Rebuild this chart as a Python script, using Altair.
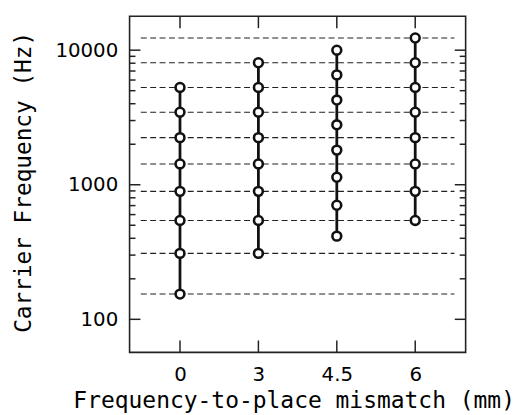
import altair as alt
import pandas as pd

# Data
x_labels = ["0", "3", "4.5", "6"]
freq_0 = [154, 309, 543, 893, 1427, 2239, 3459, 5283]
freq_3 = [309, 543, 893, 1427, 2239, 3459, 5283, 8064]
freq_45 = [415, 704, 1137, 1809, 2790, 4260, 6550, 10000]
freq_6 = [543, 893, 1427, 2239, 3459, 5283, 8064, 12315]
ref_lines = [154, 309, 543, 893, 1427, 2239, 3459, 5283, 8064, 12315]
major_ticks = [100, 1000, 10000]
minor_ticks = [200, 300, 400, 500, 600, 700, 800, 900,
               2000, 3000, 4000, 5000, 6000, 7000, 8000, 9000]
y_domain = [56.8, 17850]
x_domain = [-0.643, 3.643]
ref_extent = [-0.5, 3.5]

columns = [freq_0, freq_3, freq_45, freq_6]
rows = []
for i, fl in enumerate(columns):
    for f in fl:
        rows.append({"idx": i, "freq": f})
df = pd.DataFrame(rows)
df_ref = pd.DataFrame({"freq": ref_lines})
df_major = pd.DataFrame({"freq": major_ticks})
df_minor = pd.DataFrame({"freq": minor_ticks})
df_xt = pd.DataFrame({"idx": list(range(len(x_labels)))})

W, H = 340, 340
TICK_FONT = "DejaVu Sans"
TITLE_FONT = "DejaVu Sans Mono"
label_expr = "[" + ",".join("'%s'" % l for l in x_labels) + "][datum.value]"

xscale = alt.Scale(domain=x_domain, nice=False, zero=False)
yscale = alt.Scale(type="log", domain=y_domain, nice=False)

xaxis = alt.Axis(values=list(range(len(x_labels))), labelExpr=label_expr,
                 ticks=False, grid=False, domain=False, labelPadding=12.5,
                 labelFont=TICK_FONT, labelFontSize=20, labelColor="black",
                 title="Frequency-to-place mismatch (mm)", titleFont=TITLE_FONT,
                 titleFontSize=23.2, titleFontWeight="normal", titleColor="black",
                 titlePadding=4.8, titleX=166)
yaxis = alt.Axis(values=major_ticks, format="d", ticks=False, grid=False,
                 domain=False, labelPadding=12, labelFont=TICK_FONT,
                 labelFontSize=20, labelColor="black",
                 title="Carrier Frequency (Hz)", titleFont=TITLE_FONT,
                 titleFontSize=23, titleFontWeight="normal", titleColor="black",
                 titlePadding=19.4, titleY=167.5)

points = alt.Chart(df).mark_point(shape="circle", filled=True, fill="white",
                                  stroke="#111", strokeWidth=2.6, size=80,
                                  opacity=1).encode(
    x=alt.X("idx:Q", scale=xscale, axis=xaxis),
    y=alt.Y("freq:Q", scale=yscale, axis=yaxis),
)

refs = alt.Chart(df_ref).mark_rule(strokeDash=[6, 3.5], color="#222", strokeWidth=1.1).encode(
    x=alt.datum(ref_extent[0]),
    x2=alt.datum(ref_extent[1]),
    y=alt.Y("freq:Q"),
)

lines = alt.Chart(df).mark_line(color="#111", strokeWidth=2.8).encode(
    x=alt.X("idx:Q"),
    y=alt.Y("freq:Q"),
    detail="idx:N",
    order="freq:Q",
)

tick_color = "#222"
left_major = alt.Chart(df_major).mark_rule(color=tick_color, strokeWidth=1.5).encode(
    y=alt.Y("freq:Q"), x=alt.value(0), x2=alt.value(11))
right_major = alt.Chart(df_major).mark_rule(color=tick_color, strokeWidth=1.5).encode(
    y=alt.Y("freq:Q"), x=alt.value(W), x2=alt.value(W - 11))
left_minor = alt.Chart(df_minor).mark_rule(color=tick_color, strokeWidth=1.5).encode(
    y=alt.Y("freq:Q"), x=alt.value(0), x2=alt.value(6))
right_minor = alt.Chart(df_minor).mark_rule(color=tick_color, strokeWidth=1.5).encode(
    y=alt.Y("freq:Q"), x=alt.value(W), x2=alt.value(W - 6))
top_ticks = alt.Chart(df_xt).mark_rule(color=tick_color, strokeWidth=1.5).encode(
    x=alt.X("idx:Q"), y=alt.value(0), y2=alt.value(12))
bottom_ticks = alt.Chart(df_xt).mark_rule(color=tick_color, strokeWidth=1.5).encode(
    x=alt.X("idx:Q"), y=alt.value(H), y2=alt.value(H - 12))

chart = alt.layer(refs, left_major, right_major, left_minor, right_minor,
                  top_ticks, bottom_ticks, lines, points).properties(
    width=W, height=H, background="white",
    padding={"left": 4, "top": 5, "right": 5, "bottom": 5},
).configure_view(stroke="#222", strokeWidth=1.6)

chart.save("out.html", embed_options={"renderer": "svg", "actions": False})
